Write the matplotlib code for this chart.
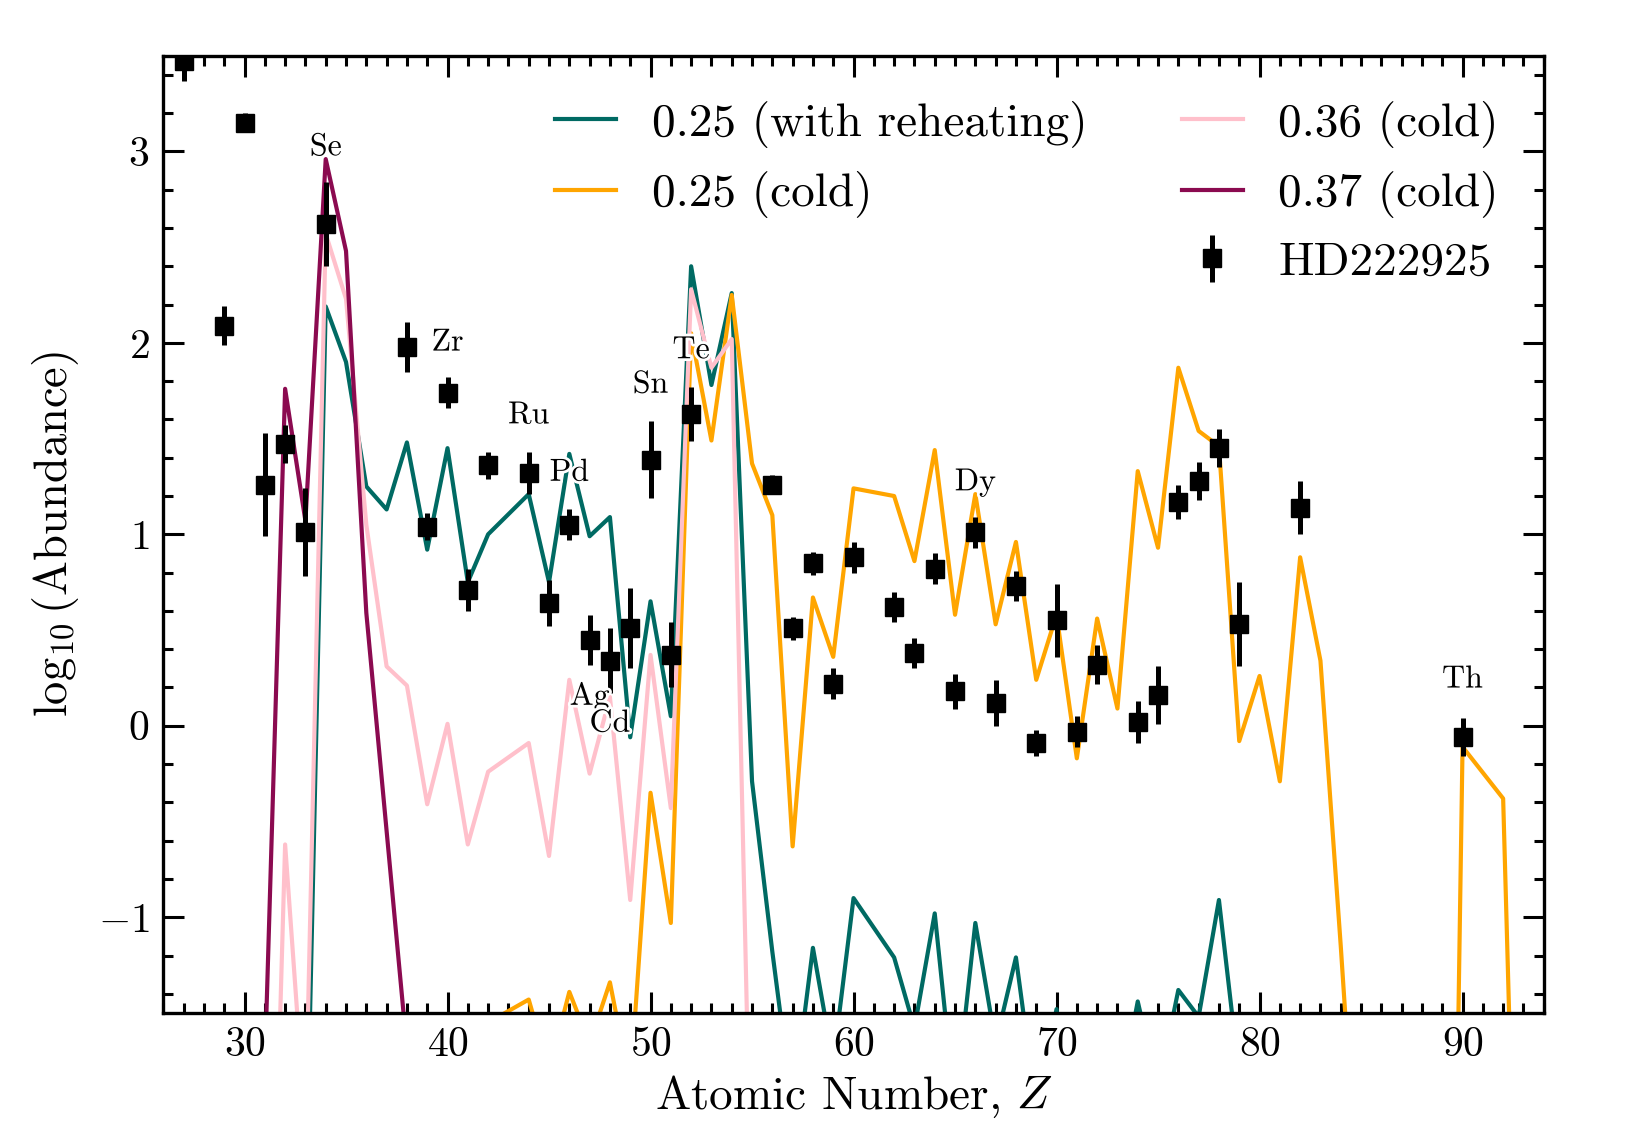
import matplotlib
matplotlib.use("Agg")
import matplotlib.pyplot as plt
import matplotlib.patheffects as pe
from matplotlib.lines import Line2D
from matplotlib.ticker import MultipleLocator

plt.rcParams["font.family"] = "serif"
plt.rcParams["font.serif"] = ["cmr10"]
plt.rcParams["mathtext.fontset"] = "cm"
plt.rcParams["axes.formatter.use_mathtext"] = True

# observed abundances, HD222925
obs_z = [27, 29, 30, 31, 32, 33, 34, 38, 39, 40, 41, 42, 44, 45, 46, 47, 48, 49,
         50, 51, 52, 56, 57, 58, 59, 60, 62, 63, 64, 65, 66, 67, 68, 69, 70, 71,
         72, 74, 75, 76, 77, 78, 79, 82, 90]
obs_val = [3.47, 2.09, 3.15, 1.26, 1.47, 1.01, 2.62, 1.98, 1.04, 1.74, 0.71, 1.36,
           1.32, 0.64, 1.05, 0.45, 0.34, 0.51, 1.39, 0.37, 1.63, 1.26, 0.51, 0.85,
           0.22, 0.88, 0.62, 0.38, 0.82, 0.18, 1.01, 0.12, 0.73, -0.09, 0.55, -0.03,
           0.32, 0.02, 0.16, 1.17, 1.28, 1.45, 0.53, 1.14, -0.06]
obs_err = [0.10, 0.10, 0.05, 0.27, 0.10, 0.23, 0.22, 0.13, 0.07, 0.08, 0.11, 0.07,
           0.11, 0.12, 0.08, 0.13, 0.17, 0.21, 0.20, 0.17, 0.14, 0.05, 0.06, 0.06,
           0.08, 0.08, 0.08, 0.08, 0.08, 0.09, 0.08, 0.12, 0.08, 0.07, 0.19, 0.08,
           0.10, 0.11, 0.15, 0.09, 0.10, 0.10, 0.22, 0.14, 0.10]

# model yields (no Tc, Pm, Pa)
model_z = list(range(26, 43)) + list(range(44, 61)) + list(range(62, 91)) + [92, 93, 94]

reheat_025 = [-4, -4, -4, -4, -4, -4, -4, -2.6, 2.19, 1.90, 1.25, 1.13, 1.48, 0.92, 1.45, 0.75, 1.00,
              1.21, 0.75, 1.42, 0.99, 1.09, -0.06, 0.65, 0.05, 2.40, 1.78, 2.26, -0.29, -1.18, -2.0, -1.16, -1.76, -0.90,
              -1.21, -1.58, -0.98, -2.0, -1.03, -1.66, -1.21, -2.0, -1.48, -2.5, -2.5, -2.0, -1.44, -1.9, -1.38,
              -1.52, -0.91, -1.83, -3, -3, -3, -3, -4, -4, -4, -4, -4, -4, -4,
              -4, -4, -4]
cold_025 = [-4, -4, -4, -4, -4, -4, -4, -4, -4, -4, -4, -4, -4, -4, -4, -3, -1.55,
            -1.43, -1.8, -1.39, -1.66, -1.34, -1.88, -0.35, -1.03, 2.05, 1.49, 2.25, 1.37, 1.10, -0.63, 0.67, 0.36, 1.24,
            1.20, 0.86, 1.44, 0.58, 1.21, 0.53, 0.96, 0.24, 0.58, -0.17, 0.56, 0.09, 1.33, 0.93, 1.87,
            1.54, 1.46, -0.08, 0.26, -0.29, 0.88, 0.34, -1.15, -2.75, -7, -7, -7, -7, -0.11,
            -0.38, -4.2, -5]
cold_036 = [-4.5, -4.5, -4.5, -4.5, -4.5, -4.3, -0.62, -2.1, 2.57, 2.23, 1.05, 0.31, 0.21, -0.41, 0.01, -0.62, -0.24,
            -0.09, -0.68, 0.24, -0.25, 0.15, -0.91, 0.37, -0.43, 2.28, 1.87, 2.02, -2.7, -4, -4, -4, -4, -4,
            -4, -4, -4, -4, -4, -4, -4, -4, -4, -4, -4, -4, -4, -4, -4,
            -4, -4, -4, -4, -4, -4, -4, -4, -4, -4, -4, -4, -4, -4,
            -4, -4, -4]
cold_037 = [-4, -4, -4, -4, -4, -1.78, 1.76, 1.07, 2.96, 2.48, 0.59, -0.55, -1.69, -4, -4, -4, -4,
            -4, -4, -4, -4, -4, -4, -4, -4, -4, -4, -4, -4, -4, -4, -4, -4, -4,
            -4, -4, -4, -4, -4, -4, -4, -4, -4, -4, -4, -4, -4, -4, -4,
            -4, -4, -4, -4, -4, -4, -4, -4, -4, -4, -4, -4, -4, -4,
            -4, -4, -4]

# element labels: Z, symbol, offset above the observed point
label_z = [34, 40, 44, 46, 47, 48, 50, 52, 66, 90]
label_txt = ["Se", "Zr", "Ru", "Pd", "Ag", "Cd", "Sn", "Te", "Dy", "Th"]
label_dy = [0.40, 0.26, 0.30, 0.27, -0.30, -0.33, 0.39, 0.33, 0.26, 0.30]

fig = plt.figure(figsize=(16.25, 11.25), dpi=100)
ax = fig.add_axes([0.1005, 0.0996, 0.8495, 0.8509])

lw = 3.0
l1, = ax.plot(model_z, reheat_025, color="#006a63", lw=lw, label="0.25 (with reheating)")
l2, = ax.plot(model_z, cold_025, color="orange", lw=lw, label="0.25 (cold)")
l3, = ax.plot(model_z, cold_036, color="pink", lw=lw, label="0.36 (cold)")
l4, = ax.plot(model_z, cold_037, color="#8b0a50", lw=lw, label="0.37 (cold)")
eb = ax.errorbar(obs_z, obs_val, yerr=obs_err, fmt="s", color="k", ms=12.5,
                 elinewidth=3.6, capsize=0, zorder=5, label="HD222925")

for z, txt, dy in zip(label_z, label_txt, label_dy):
    y = obs_val[obs_z.index(z)] + dy
    ax.text(z, y, txt, ha="center", va="center", fontsize=23, zorder=6,
            path_effects=[pe.withStroke(linewidth=4, foreground="white")])

blank = Line2D([], [], color="none", label=" ")
ax.legend(handles=[l1, l2, blank, l3, l4, eb], ncol=2, frameon=False, fontsize=34,
          loc="upper right", handlelength=1.3, handletextpad=0.75, columnspacing=2.0,
          labelspacing=0.5, borderaxespad=0.55)

ax.set_xlim(26, 94)
ax.set_ylim(-1.5, 3.5)
ax.xaxis.set_major_locator(MultipleLocator(10))
ax.xaxis.set_minor_locator(MultipleLocator(1))
ax.yaxis.set_major_locator(MultipleLocator(1))
ax.yaxis.set_minor_locator(MultipleLocator(0.2))
ax.tick_params(which="both", direction="in", top=True, right=True, width=2.2, labelsize=30, pad=10)
ax.tick_params(which="major", length=15)
ax.tick_params(which="minor", length=7.5)
for s in ax.spines.values():
    s.set_linewidth(2.4)

ax.set_xlabel(r"Atomic Number, $Z$", fontsize=34, labelpad=7)
ax.set_ylabel(r"$\log_{10}(\mathrm{Abundance})$", fontsize=33.5, labelpad=12)

fig.savefig("out.png", dpi=100)
